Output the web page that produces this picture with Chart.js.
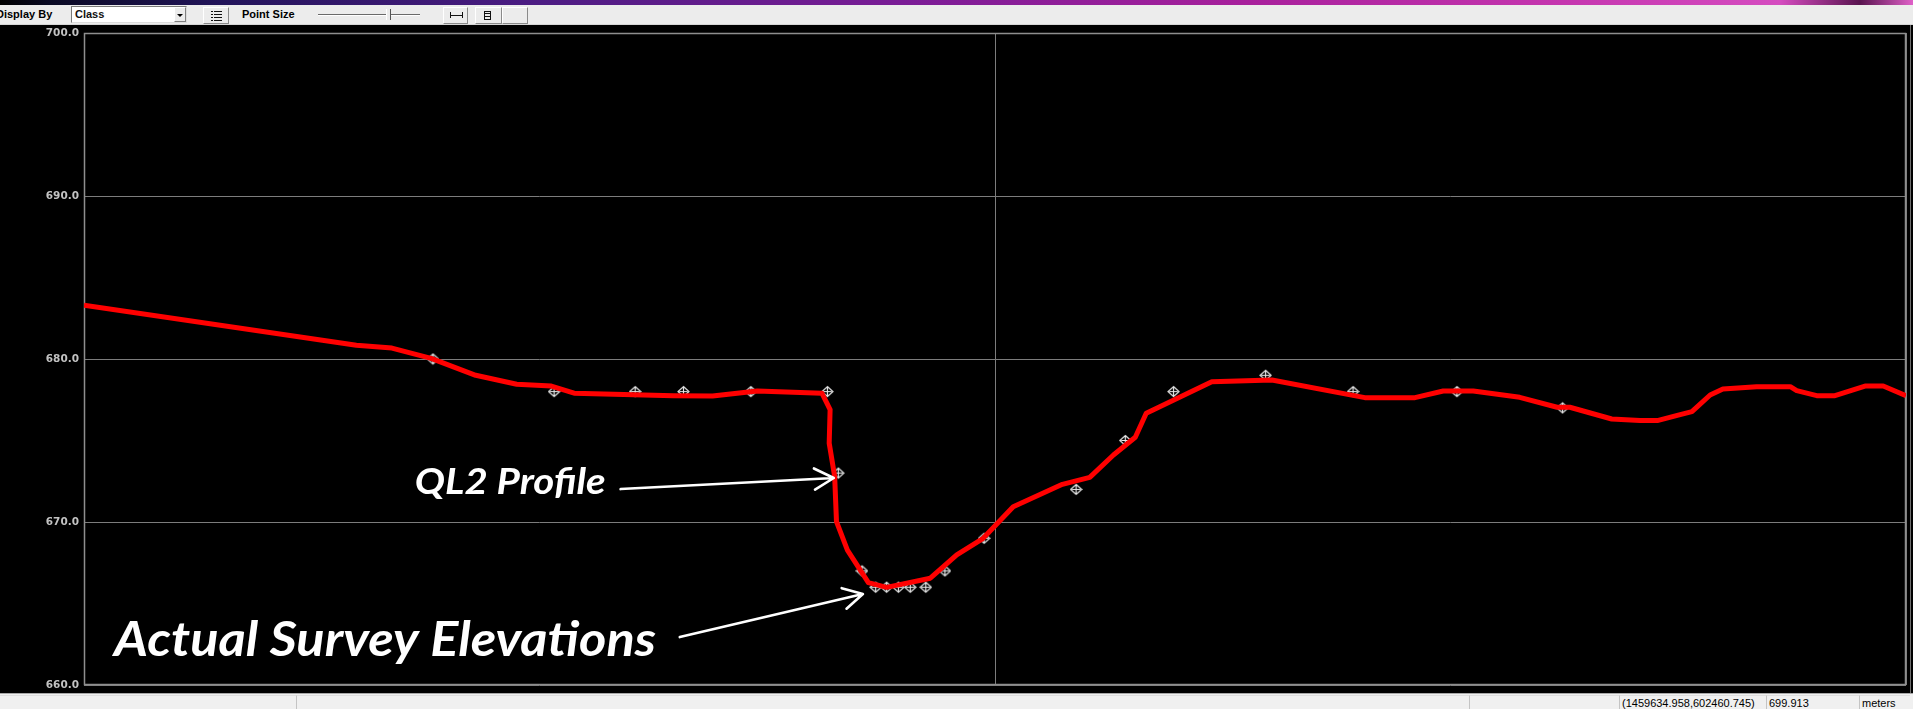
<!DOCTYPE html>
<html>
<head>
<meta charset="utf-8">
<script src="https://cdn.jsdelivr.net/npm/chart.js@4/dist/chart.umd.min.js"></script>
<style>
  html, body { margin: 0; padding: 0; width: 1913px; height: 709px; overflow: hidden; background: #000; position: relative; }
  #wall { position: absolute; left: 0; top: 0; width: 1913px; height: 5px;
    background: linear-gradient(90deg, #000 0, #0a0a24 50px, #22145a 220px, #4a1c82 520px, #7a1c96 900px, #a8209c 1250px, #c435ae 1550px, #d54cc0 1780px, #5a1450 1860px, #e060c8 1913px); }
  #toolbar { position: absolute; left: 0; top: 5px; width: 1913px; height: 20px; background: #ececec;
    border-bottom: 1px solid #d6d6d6; box-sizing: border-box; font-family: "Liberation Sans", Arial, sans-serif; }
  .lbl { position: absolute; top: 3px; font-size: 11px; font-weight: bold; color: #000; white-space: nowrap; }
  .combo { position: absolute; top: 1px; height: 17px; width: 116px; background: #fff; box-sizing: border-box;
    border: 1px solid #7a7a7a; border-right-color: #dcdcdc; border-bottom-color: #dcdcdc; }
  .combo span { position: absolute; left: 3px; top: 1px; font-size: 11px; font-weight: bold; color: #111; }
  .drop { position: absolute; right: 0; top: 0; width: 12px; height: 15px; background: #ececec; box-sizing: border-box;
    border: 1px solid #fff; border-right-color: #808080; border-bottom-color: #808080; }
  .drop:after { content: ""; position: absolute; left: 2px; top: 6px; border-left: 3px solid transparent;
    border-right: 3px solid transparent; border-top: 3px solid #000; }
  .btn { position: absolute; top: 2px; height: 17px; background: #ececec; box-sizing: border-box;
    border: 1px solid #fff; border-right-color: #8a8a8a; border-bottom-color: #8a8a8a; }
  .listicon { position: absolute; left: 7px; top: 3px; width: 11px; height: 10px;
    background: repeating-linear-gradient(180deg, #111 0 1.5px, transparent 1.5px 3px); }
  .listicon:before { content: ""; position: absolute; left: 2px; top: 0; width: 1px; height: 10px; background: #ececec; }
  .track { position: absolute; left: 318px; top: 9px; width: 102px; height: 1px; background: #6a6a6a; border-bottom: 1px solid #fff; }
  .thumb { position: absolute; left: 386px; top: 4px; width: 3px; height: 11px; background: #ececec;
    border-left: 1px solid #fff; border-right: 1px solid #555; }
  .span-ic { position: absolute; left: 6px; top: 4px; width: 11px; height: 6px; border-left: 1px solid #111; border-right: 1px solid #111; }
  .span-ic:after { content: ""; position: absolute; left: 0; top: 3px; width: 11px; height: 1px; background: #111; }
  .page-ic { position: absolute; left: 8px; top: 3px; width: 7px; height: 9px; border: 1px solid #111; box-sizing: border-box;
    background: repeating-linear-gradient(180deg, transparent 0 1px, #111 1px 2px, transparent 2px 3px); }
  #chartbox { position: absolute; left: 0; top: 25px; width: 1913px; height: 668px; }
  #edge { position: absolute; left: 1910px; top: 25px; width: 1px; height: 668px; background: #6e6e6e; }
  #status { position: absolute; left: 0; top: 693px; width: 1913px; height: 16px; background: #f0f0f0;
    border-top: 1px solid #a8a8a8; box-sizing: border-box; font-family: "Liberation Sans", Arial, sans-serif; }
  .cell { position: absolute; top: 1px; height: 15px; box-sizing: border-box; border-left: 1px solid #c4c4c4; border-top: 1px solid #dedede; }
  .cell span { position: absolute; left: 2px; top: 1px; font-size: 11px; color: #000; white-space: nowrap; }
</style>
</head>
<body>
<div id="wall"></div>
<div id="toolbar">
  <span class="lbl" style="left:-4px">Display By</span>
  <div class="combo" style="left:71px"><span>Class</span><div class="drop"></div></div>
  <div class="btn" style="left:203px;width:26px"><div class="listicon"></div></div>
  <span class="lbl" style="left:242px">Point Size</span>
  <div class="track"></div>
  <div class="thumb"></div>
  <div class="btn" style="left:443px;width:25px"><div class="span-ic"></div></div>
  <div class="btn" style="left:475px;width:27px"><div class="page-ic"></div></div>
  <div class="btn" style="left:502px;width:26px"></div>
</div>
<div id="chartbox"><canvas id="profile" width="1913" height="668"></canvas></div>
<div id="edge"></div>
<div id="status">
  <div class="cell" style="left:0;width:296px;border-left:none"></div>
  <div class="cell" style="left:296px;width:1173px"></div>
  <div class="cell" style="left:1469px;width:150px"></div>
  <div class="cell" style="left:1619px;width:147px"><span>(1459634.958,602460.745)</span></div>
  <div class="cell" style="left:1766px;width:93px"><span>699.913</span></div>
  <div class="cell" style="left:1859px;width:51px"><span>meters</span></div>
</div>
<script>
// QL2 lidar profile: station along the section line (m) and ground elevation
const profileStation = [0, 29.9, 33.8, 38.1, 43.0, 47.5, 51.3, 53.8, 64.7, 69.0, 73.9, 81.0, 81.9, 81.8,
  82.4, 82.6, 83.8, 86.1, 88.1, 92.9, 95.8, 98.7, 102.0, 107.4, 110.4, 113.0, 115.4, 116.6, 123.8,
  130.4, 140.6, 146.1, 149.2, 152.5, 157.6, 161.7, 163.1, 167.7, 170.8, 172.7, 175.0, 176.5, 178.5,
  179.9, 183.6, 187.3, 188.0, 190.2, 192.2, 195.5, 197.5, 200.0];
const profileElev = [683.3, 680.84, 680.67, 680.04, 679.0, 678.45, 678.34, 677.9, 677.75, 677.73, 678.04,
  677.9, 676.9, 674.83, 672.8, 670.02, 668.28, 666.28, 665.99, 666.55, 667.98, 669.0, 670.94, 672.31,
  672.74, 674.11, 675.2, 676.67, 678.61, 678.71, 677.63, 677.63, 678.04, 678.04, 677.65, 677.04, 677.04,
  676.32, 676.22, 676.22, 676.56, 676.77, 677.79, 678.16, 678.3, 678.3, 678.06, 677.75, 677.75, 678.34,
  678.34, 677.75];

// Surveyed ground shots along the same line
const surveyStation = [38.3, 51.6, 60.5, 65.8, 73.2, 81.6, 82.8, 85.4, 86.9, 88.1, 89.4, 90.7, 92.4,
  94.5, 98.8, 108.9, 114.3, 119.6, 129.7, 139.3, 150.7, 162.3];
const surveyElev = [680, 678, 678, 678, 678, 678, 673, 667, 666, 666, 666, 666, 666, 667, 669, 672, 675,
  678, 679, 678, 678, 677];

// Axis ticks
const elevTicks = [660, 670, 680, 690, 700];
const stationTicks = [0, 100, 200];

// Callout labels: text, text anchor (station, elevation), arrow tail and head
const calloutText = ['QL2 Profile', 'Actual Survey Elevations'];
const calloutAnchor = [[36.3, 671.72], [3.3, 661.78]];
const calloutTail = [[58.9, 672.02], [65.4, 662.94]];
const calloutHead = [[82.3, 672.7], [85.5, 665.58]];

// Survey marker: diamond with a cross through it
const marker = document.createElement('canvas');
marker.width = 13; marker.height = 13;
(function () {
  const c = marker.getContext('2d');
  c.strokeStyle = '#e6e6e6';
  c.lineWidth = 1.2;
  c.beginPath();
  c.moveTo(6.5, 1.5); c.lineTo(12, 6.5); c.lineTo(6.5, 11.5); c.lineTo(1, 6.5); c.closePath();
  c.moveTo(2.5, 6.5); c.lineTo(10.5, 6.5);
  c.moveTo(6.5, 2.5); c.lineTo(6.5, 10.5);
  c.stroke();
})();

const frame = {
  id: 'frame',
  beforeDatasetsDraw(chart) {
    const { ctx, chartArea: a } = chart;
    ctx.save();
    ctx.strokeStyle = '#8e8e8e';
    ctx.lineWidth = 1.5;
    ctx.strokeRect(a.left + 0.5, a.top + 0.5, a.right - a.left - 1, a.bottom - a.top - 1);
    ctx.restore();
  }
};

const callouts = {
  id: 'callouts',
  afterDraw(chart) {
    const { ctx } = chart;
    const xs = chart.scales.x, ys = chart.scales.y;
    const sizes = [37, 47];
    const widths = [191, 542];
    ctx.save();
    ctx.fillStyle = '#fff';
    ctx.strokeStyle = '#fff';
    ctx.lineCap = 'round';
    ctx.lineJoin = 'round';
    calloutText.forEach((t, i) => {
      const px = xs.getPixelForValue(calloutAnchor[i][0]);
      const py = ys.getPixelForValue(calloutAnchor[i][1]);
      ctx.font = 'italic bold ' + sizes[i] + 'px Lato, "Open Sans", sans-serif';
      ctx.textBaseline = 'alphabetic';
      const w = ctx.measureText(t).width;
      ctx.save();
      ctx.translate(px, py);
      ctx.scale(widths[i] / w, 1);
      ctx.fillText(t, 0, 0);
      ctx.restore();

      const x0 = xs.getPixelForValue(calloutTail[i][0]), y0 = ys.getPixelForValue(calloutTail[i][1]);
      const x1 = xs.getPixelForValue(calloutHead[i][0]), y1 = ys.getPixelForValue(calloutHead[i][1]);
      const ang = Math.atan2(y1 - y0, x1 - x0);
      const len = 22, spread = 0.5;
      ctx.lineWidth = 2.6;
      ctx.beginPath();
      ctx.moveTo(x0, y0); ctx.lineTo(x1, y1);
      ctx.moveTo(x1 - len * Math.cos(ang - spread), y1 - len * Math.sin(ang - spread));
      ctx.lineTo(x1, y1);
      ctx.lineTo(x1 - len * Math.cos(ang + spread), y1 - len * Math.sin(ang + spread));
      ctx.stroke();
    });
    ctx.restore();
  }
};

new Chart(document.getElementById('profile'), {
  type: 'scatter',
  data: {
    datasets: [
      {
        label: 'QL2 Profile',
        data: profileStation.map((s, i) => ({ x: s, y: profileElev[i] })),
        showLine: true,
        borderColor: '#ff0000',
        borderWidth: 5,
        borderJoinStyle: 'round',
        pointRadius: 0,
        tension: 0,
        order: 0
      },
      {
        label: 'Actual Survey Elevations',
        data: surveyStation.map((s, i) => ({ x: s, y: surveyElev[i] })),
        pointStyle: marker,
        pointRadius: 6,
        showLine: false,
        order: 1
      }
    ]
  },
  options: {
    responsive: false,
    animation: false,
    devicePixelRatio: 1,
    layout: { padding: { left: 0, top: 8, right: 7, bottom: 8 } },
    plugins: { legend: { display: false }, tooltip: { enabled: false } },
    scales: {
      x: {
        type: 'linear', min: 0, max: 200,
        afterBuildTicks: s => { s.ticks = stationTicks.map(v => ({ value: v })); },
        ticks: { display: false },
        grid: { color: '#7c7c7c', lineWidth: 1, drawTicks: false },
        border: { display: false },
        afterFit: s => { s.height = 0; s.paddingLeft = 0; s.paddingRight = 0; }
      },
      y: {
        min: 660, max: 700,
        afterBuildTicks: s => { s.ticks = elevTicks.map(v => ({ value: v })); },
        ticks: {
          color: '#c2c2c2', padding: 5,
          font: { family: '"DejaVu Sans", sans-serif', size: 10.5, weight: 'bold' },
          callback: v => Number(v).toFixed(1)
        },
        grid: { color: '#7c7c7c', lineWidth: 1, drawTicks: false },
        border: { display: false },
        afterFit: s => { s.width = 84; s.paddingTop = 0; s.paddingBottom = 0; }
      }
    }
  },
  plugins: [frame, callouts]
});
</script>
</body>
</html>
